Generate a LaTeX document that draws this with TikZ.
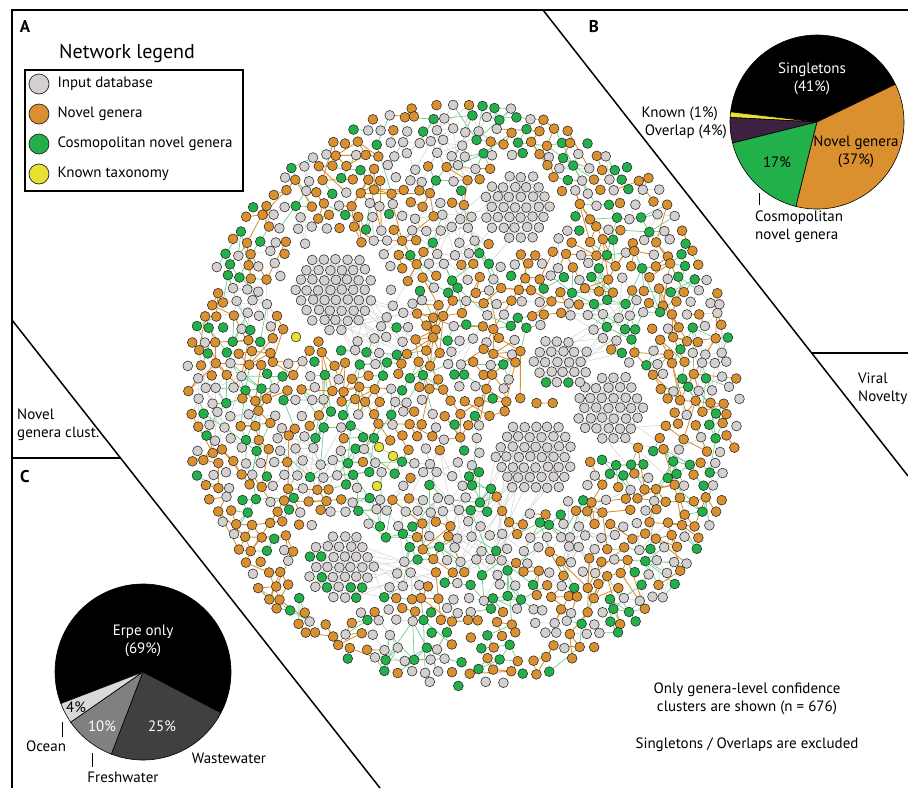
\documentclass[tikz,border=0pt]{standalone}
\usepackage{fontspec}
\setmainfont{PT Sans}
\usetikzlibrary{positioning}

\definecolor{inputGray}{HTML}{D4D0D0}
\definecolor{novelOrange}{HTML}{DA902F}
\definecolor{cosmoGreen}{HTML}{22B04B}
\definecolor{knownYellow}{HTML}{E6E133}
\definecolor{overlapPurple}{HTML}{3D2140}
\definecolor{oceanGray}{HTML}{D9D9D9}
\definecolor{freshGray}{HTML}{808080}
\definecolor{wasteGray}{HTML}{404040}

\pgfdeclarelayer{edges}
\pgfsetlayers{edges,main}

\tikzset{
  netNode/.style={circle,draw=black!85,line width=0.55pt,minimum size=9.8pt,inner sep=0pt},
  legNode/.style={circle,draw=black!85,line width=0.7pt,minimum size=20pt,inner sep=0pt},
  novelEdge/.style={draw=novelOrange,line width=0.85pt},
  cosmoEdge/.style={draw=cosmoGreen!60,line width=0.75pt},
  dbEdge/.style={draw=black!18,line width=0.5pt},
  knownEdge/.style={draw=knownYellow,line width=0.8pt},
  frameLine/.style={line width=1.5pt},
  tickLine/.style={line width=0.7pt},
  lbl/.style={font=\fontsize{15}{18}\selectfont,inner sep=0pt},
  panelLbl/.style={font=\fontsize{17}{20}\selectfont\bfseries,inner sep=0pt},
  slice/.style={draw=black,line width=0.6pt}
}

% dense clusters: x/y/radius/id/green share/haze x/haze y
\def\denseList{333/290/41/1/0.02/385/338, 518/207/34/2/0.03/456/237, 533/457/40/3/0.02/485/550, 611/408/36/4/0.02/655/450, 342/567/36/5/0.22/408/573, 560/362/29/6/0.12/610/322}
% loose gray zones: x/y/radius
\def\zoneList{385/338/26, 318/462/27, 445/490/30, 408/573/24, 390/522/20, 456/237/26, 455/140/26, 610/322/24, 655/563/22, 485/550/28, 410/648/24, 253/302/22, 567/537/20, 713/362/22, 215/405/22}
% spots of the known taxonomy nodes
\def\knownList{296/337, 379/447, 393/456, 377/486}

% try one edge between two grid nodes
\newcommand{\kenarDene}[5]{%
  \ifcsname nc-#3-#4\endcsname
    \edef\ca{\csname nc-#1-#2\endcsname}%
    \edef\cb{\csname nc-#3-#4\endcsname}%
    \edef\za{\csname nz-#1-#2\endcsname\csname nz-#3-#4\endcsname}%
    \ifnum\za>0\relax
      \def\kStil{dbEdge}\def\kP{0.6}%
      \if g\ca\def\kStil{cosmoEdge}\def\kP{0.35}\fi
      \if g\cb\def\kStil{cosmoEdge}\def\kP{0.35}\fi
    \else
      \if\ca\cb
        \if o\ca\def\kStil{novelEdge}\def\kP{0.38}\fi
        \if e\ca\def\kStil{dbEdge}\def\kP{0.25}\fi
        \if g\ca\def\kStil{cosmoEdge}\def\kP{0.4}\fi
      \else
        \def\kStil{cosmoEdge}\def\kP{0.22}%
        \if e\ca\if o\cb\def\kStil{novelEdge}\def\kP{0.07}\fi\fi
        \if o\ca\if e\cb\def\kStil{novelEdge}\def\kP{0.07}\fi\fi
      \fi
    \fi
    \pgfmathparse{rnd<\kP*#5}%
    \ifdim\pgfmathresult pt>0.5pt
      \draw[\kStil] (n-#1-#2) -- (n-#3-#4);
    \fi
  \fi}

\begin{document}
\begin{tikzpicture}[x=1pt,y=-1pt]
\useasboundingbox (0,0) rectangle (908,788);
\pgfmathsetseed{1906}

% panel frames
\draw[frameLine] (12,788) -- (12,10) -- (908,10);
\draw[frameLine] (543,10) -- (908,476);
\draw[frameLine] (811,353) -- (908,353);
\draw[frameLine] (12,320) -- (380,788);
\draw[frameLine] (12,458) -- (120,458);

\node[panelLbl] (panA) at (25,27) {A};
\node[panelLbl] (panB) at (594,27) {B};
\node[panelLbl] (panC) at (25,477) {C};

% legend
\node[font=\fontsize{20}{22}\selectfont] (legTitle) at (127,54) {Network legend};
\draw[frameLine] (25,70) rectangle (243,191);
\foreach \yy/\renk/\ad [count=\n] in {84/inputGray/Input database, 114/novelOrange/Novel genera, 144/cosmoGreen/Cosmopolitan novel genera, 174/knownYellow/Known taxonomy}{
  \node[legNode,fill=\renk] (leg\n) at (39,\yy) {};
  \node[lbl,right=8pt of leg\n] (legT\n) {\ad};
}

% network: dense clusters
\foreach \kx/\ky/\kr/\kk/\kg/\hx/\hy in \denseList{
  \foreach \i in {0,...,8}{
    \foreach \j in {0,...,8}{
      \pgfmathsetmacro{\qx}{\kx+(\j-4+0.5*mod(\i,2))*11.6-2.9+0.6*rand}
      \pgfmathsetmacro{\qy}{\ky+(\i-4)*10.1+0.6*rand}
      \pgfmathparse{veclen(\qx-\kx,\qy-\ky)<\kr}
      \ifdim\pgfmathresult pt>0.5pt
        \pgfmathparse{rnd<\kg}
        \ifdim\pgfmathresult pt>0.5pt \def\renk{cosmoGreen}\else\def\renk{inputGray}\fi
        \node[netNode,fill=\renk] (k\kk-\i-\j) at (\qx,\qy) {};
        \expandafter\xdef\csname kc-\kk-\i-\j\endcsname{1}
      \fi
    }
  }
}

% network: loose grid
\foreach \ri in {0,...,47}{
  \foreach \ci in {0,...,39}{
    \pgfmathsetmacro{\px}{463+(\ci-19.5)*14.2+mod(\ri,2)*7.1-3.55+3.2*rand}
    \pgfmathsetmacro{\py}{395+(\ri-23.5)*12.3+3*rand}
    \pgfmathparse{((\px-463)/278)^2+((\py-395)/292)^2>1 || rnd<0.05}
    \ifdim\pgfmathresult pt>0.5pt \gdef\dropIt{1}\else\gdef\dropIt{0}\fi
    \ifnum\dropIt=0
      \foreach \kx/\ky/\kr/\kk/\kg/\hx/\hy in \denseList{
        \pgfmathparse{veclen(\px-\kx,\py-\ky)<\kr+12}
        \ifdim\pgfmathresult pt>0.5pt \gdef\dropIt{1}\fi
      }
      \foreach \kx/\ky in \knownList{
        \pgfmathparse{veclen(\px-\kx,\py-\ky)<10}
        \ifdim\pgfmathresult pt>0.5pt \gdef\dropIt{1}\fi
      }
    \fi
    \ifnum\dropIt=0
      \gdef\inZone{0}
      \foreach \zx/\zy/\zr in \zoneList{
        \pgfmathparse{veclen(\px-\zx,\py-\zy)<\zr}
        \ifdim\pgfmathresult pt>0.5pt \gdef\inZone{1}\fi
      }
      \pgfmathsetmacro{\zar}{rnd}
      \ifnum\inZone=1
        \ifdim\zar pt<0.8pt \def\kod{e}\else\def\kod{g}\fi
      \else
        \ifdim\zar pt<0.47pt \def\kod{o}\else\ifdim\zar pt<0.79pt \def\kod{e}\else\def\kod{g}\fi\fi
      \fi
      \if o\kod\def\renk{novelOrange}\fi
      \if e\kod\def\renk{inputGray}\fi
      \if g\kod\def\renk{cosmoGreen}\fi
      \node[netNode,fill=\renk] (n-\ri-\ci) at (\px,\py) {};
      \expandafter\xdef\csname nc-\ri-\ci\endcsname{\kod}
      \expandafter\xdef\csname nz-\ri-\ci\endcsname{\inZone}
    \fi
  }
}

% known taxonomy
\foreach \kx/\ky [count=\n] in \knownList{
  \node[netNode,fill=knownYellow] (y\n) at (\kx,\ky) {};
}

\begin{pgfonlayer}{edges}
\draw[knownEdge] (y2) -- (y3);
\draw[knownEdge] (y3) -- (y4);
% edges inside the dense clusters, and their haze
\foreach \kx/\ky/\kr/\kk/\kg/\hx/\hy in \denseList{
  \foreach \i in {0,...,8}{
    \foreach \j in {0,...,8}{
      \ifcsname kc-\kk-\i-\j\endcsname
        \foreach \di/\dj in {0/1,1/0,1/-1,0/2,2/1,1/2,2/-1,2/0,3/1,1/3,3/-1}{
          \pgfmathtruncatemacro{\ii}{\i+\di}
          \pgfmathtruncatemacro{\jj}{\j+\dj}
          \ifcsname kc-\kk-\ii-\jj\endcsname
            \pgfmathparse{rnd<0.45}
            \ifdim\pgfmathresult pt>0.5pt \draw[dbEdge] (k\kk-\i-\j) -- (k\kk-\ii-\jj);\fi
          \fi
        }
        \foreach \t in {1,2}{
          \pgfmathtruncatemacro{\ii}{random(0,8)}
          \pgfmathtruncatemacro{\jj}{random(0,8)}
          \ifcsname kc-\kk-\ii-\jj\endcsname \draw[dbEdge] (k\kk-\i-\j) -- (k\kk-\ii-\jj);\fi
        }
        \pgfmathtruncatemacro{\hr}{round((\hy-395)/12.3+23.5)+random(-2,2)}
        \pgfmathtruncatemacro{\hc}{round((\hx-463)/14.2+19.5)+random(-2,2)}
        \pgfmathparse{rnd<0.35}
        \ifdim\pgfmathresult pt>0.5pt
          \ifcsname nc-\hr-\hc\endcsname \draw[dbEdge] (k\kk-\i-\j) -- (n-\hr-\hc);\fi
        \fi
      \fi
    }
  }
}
% edges of the loose grid
\foreach \ri in {0,...,47}{
  \foreach \ci in {0,...,39}{
    \ifcsname nc-\ri-\ci\endcsname
      \foreach \dr/\hh/\ds in {0/2/1, 1/1/1, 1/-1/1, 0/4/0.45, 2/0/0.45, 2/2/0.4, 2/-2/0.4, 1/3/0.3, 1/-3/0.3, 3/1/0.2, 3/-1/0.2, 2/4/0.15, 2/-4/0.15, 3/3/0.12, 3/-3/0.12, 4/0/0.08, 4/2/0.06, 0/6/0.06}{
        \pgfmathtruncatemacro{\tr}{\ri+\dr}
        \pgfmathtruncatemacro{\tc}{\ci+(\hh+mod(\ri,2)-mod(\ri+\dr,2))/2}
        \kenarDene{\ri}{\ci}{\tr}{\tc}{\ds}
      }
    \fi
  }
}
\end{pgfonlayer}

% pie B
\coordinate (pB) at (817,122);
\begin{scope}[shift={(pB)},yscale=-1]
\foreach \a/\b/\renk in {25.7/173.3/black, 173.3/177/knownYellow, 177/194/overlapPurple, 194/256/cosmoGreen, 256/385.7/novelOrange}{
  \filldraw[slice,fill=\renk] (0,0) -- (\a:87) arc[start angle=\a,end angle=\b,radius=87] -- cycle;
}
\end{scope}
\node[lbl,white,align=center] (singT) at (812,79) {Singletons\\(41\%)};
\node[lbl,align=center] (novelT) at (856,152) {Novel genera\\(37\%)};
\node[lbl] (cosmoP) at (777,162) {17\%};
\node[lbl,anchor=east] (knownT) at (718,114) {Known (1\%)};
\node[lbl,anchor=east] (overT) at (727,132) {Overlap (4\%)};
\node[lbl,anchor=west,align=left] (cosmoT) at (755,227) {Cosmopolitan\\novel genera};
\coordinate (cosmoTick) at (759,193);
\draw[tickLine] (cosmoTick) -- (cosmoTick |- 0,205);

% pie C
\coordinate (pC) at (143,672);
\begin{scope}[shift={(pC)},yscale=-1]
\foreach \a/\b/\renk in {-27.7/201/black, 201/214.8/oceanGray, 214.8/249/freshGray, 249/332.3/wasteGray}{
  \filldraw[slice,fill=\renk] (0,0) -- (\a:88) arc[start angle=\a,end angle=\b,radius=88] -- cycle;
}
\end{scope}
\node[lbl,white,align=center] (erpeT) at (143,641) {Erpe only\\(69\%)};
\node[lbl] (oceanP) at (76,707) {4\%};
\node[lbl,white] (freshP) at (102,726) {10\%};
\node[lbl,white] (wasteP) at (162,726) {25\%};
\node[lbl] (wasteT) at (229,758) {Wastewater};
\node[lbl] (oceanT) at (46,746) {Ocean};
\node[lbl] (freshT) at (123,777) {Freshwater};
\coordinate (oceanTick) at (62,722);
\coordinate (freshTick) at (92,753);
\draw[tickLine] (oceanTick) -- ++(0,15);
\draw[tickLine] (freshTick) -- ++(0,14);

% side labels and notes
\node[lbl,anchor=west,align=left] (clustT) at (17,425) {Novel\\genera clust.};
\node[lbl,anchor=west,align=left] (viralT) at (858,389) {Viral\\Novelty};
\node[lbl,align=center] (noteT) at (747,699) {Only genera-level confidence\\clusters are shown (n = 676)};
\node[lbl] (exclT) at (747,745) {Singletons / Overlaps are excluded};
\end{tikzpicture}
\end{document}
